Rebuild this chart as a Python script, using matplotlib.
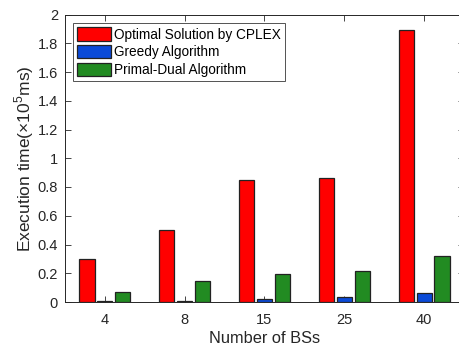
import matplotlib
matplotlib.use("Agg")
import matplotlib.pyplot as plt
import numpy as np

plt.rcParams['font.family'] = ['Liberation Sans', 'DejaVu Sans']
plt.rcParams['mathtext.fontset'] = 'custom'
plt.rcParams['mathtext.rm'] = 'Liberation Sans'

categories = ['4', '8', '15', '25', '40']
cplex = [0.30, 0.50, 0.85, 0.865, 1.89]
greedy = [0.005, 0.008, 0.019, 0.037, 0.063]
primal_dual = [0.072, 0.148, 0.195, 0.216, 0.32]
series_names = ['Optimal Solution by CPLEX', 'Greedy Algorithm', 'Primal-Dual Algorithm']
series_colors = ['#ff0000', '#0a4ad8', '#228b22']
yticks = [0, 0.2, 0.4, 0.6, 0.8, 1, 1.2, 1.4, 1.6, 1.8, 2]
ytick_labels = ['0', '0.2', '0.4', '0.6', '0.8', '1', '1.2', '1.4', '1.6', '1.8', '2']

fig = plt.figure(figsize=(4.6, 3.49), dpi=100)
ax = fig.add_axes([65 / 460, 1 - 302 / 349, 399 / 460, (302 - 14.5) / 349])

x = np.arange(1, len(categories) + 1)
width = 0.19
offset = 0.225
for i, (vals, name, col) in enumerate(zip([cplex, greedy, primal_dual], series_names, series_colors)):
    ax.bar(x + (i - 1) * offset, vals, width=width, color=col, edgecolor='#222222',
           linewidth=0.9, label=name, zorder=2)

ax.set_xlim(0.5, 5.5)
ax.set_ylim(0, 2)
ax.set_xticks(x)
ax.set_xticklabels(categories)
ax.set_yticks(yticks)
ax.set_yticklabels(ytick_labels)

text_col = '#262626'
ax.tick_params(direction='in', length=4, width=0.6, colors=text_col, labelsize=10.5,
               top=True, right=True, pad=5)
ax.tick_params(axis='x', pad=8)
for s in ax.spines.values():
    s.set_linewidth(0.7)
    s.set_color(text_col)

ax.set_xlabel('Number of BSs', fontsize=11.8, color=text_col, labelpad=3)
ax.set_ylabel(r'Execution time($\times$10$^5$ms)', fontsize=12.5, color=text_col, labelpad=1)

leg = ax.legend(loc='upper left', bbox_to_anchor=(0.02, 0.97), fontsize=9.8, frameon=True,
                fancybox=False, edgecolor='#262626', handlelength=2.5, handleheight=1.15,
                handletextpad=0.2, borderaxespad=0.0, borderpad=0.3, labelspacing=0.25)
leg.get_frame().set_linewidth(0.7)

fig.savefig('out.png', dpi=100)
